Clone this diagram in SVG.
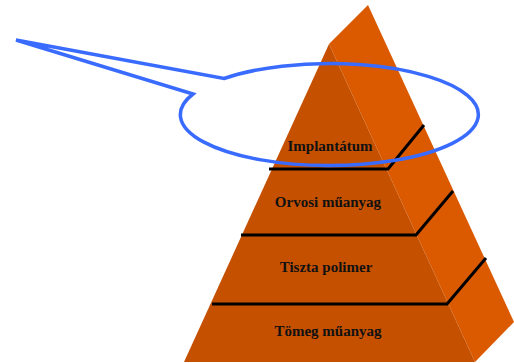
<svg xmlns="http://www.w3.org/2000/svg" width="514" height="363" viewBox="0 0 514 363">
<style>
.front{fill:#C55000}
.side{fill:#DB5A00}
.div{fill:none;stroke:#000;stroke-width:3}
.lbl{font-family:"Liberation Serif","Times New Roman",serif;font-weight:bold;font-size:15px;fill:#111;text-anchor:middle}
.call{fill:none;stroke:#3A6BFF;stroke-width:3.5;stroke-linejoin:miter}
</style>
<rect width="514" height="363" fill="#fff"/>
<g id="pyramid">
<polygon class="side" points="329,44 368,5 514,322 475,362"/>
<polygon class="front" points="329,44 184,362 475,362"/>
</g>
<g id="level-implantatum">
<text class="lbl" x="330" y="151">Implantátum</text>
</g>
<g id="level-orvosi">
<text class="lbl" x="328" y="207">Orvosi műanyag</text>
</g>
<g id="level-tiszta">
<text class="lbl" x="326" y="272">Tiszta polimer</text>
</g>
<g id="level-tomeg">
<text class="lbl" x="328" y="336">Tömeg műanyag</text>
</g>
<g id="connectors">
<polyline class="div" points="269,169 388,169 424,125"/>
<polyline class="div" points="241,235 416,235 453,191"/>
<polyline class="div" points="212,304 447,304 486,258"/>
</g>
<g id="callout">
<path class="call" d="M193,94 A149 51 0 1 0 224,78.5 L16,40 Z"/>
</g>
</svg>
